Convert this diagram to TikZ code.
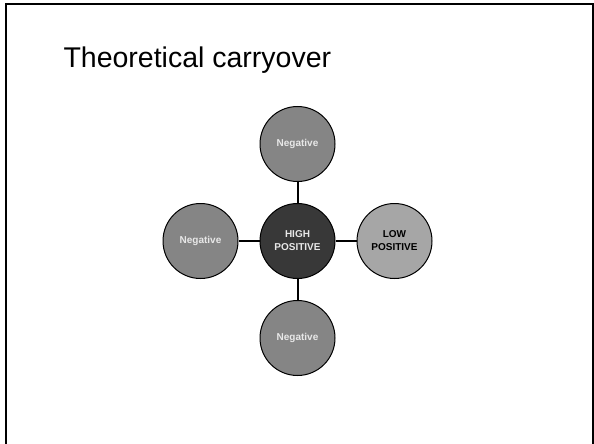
\documentclass[tikz,border=0pt]{standalone}
\usepackage{fontspec}
\setmainfont{Liberation Sans}
\usetikzlibrary{positioning}
\definecolor{negfill}{HTML}{858585}
\definecolor{highfill}{HTML}{383838}
\definecolor{lowfill}{HTML}{A6A6A6}
\definecolor{pale}{HTML}{E8E8E8}
\begin{document}
\begin{tikzpicture}[x=1pt,y=1pt,
  main/.style = {draw, circle, line width=1pt, minimum size=75pt, inner sep=0pt,
    font=\fontsize{10}{13}\selectfont\bfseries, align=center},
  neg/.style = {main, fill=negfill, text=pale},
  link/.style = {line width=2pt},
  node distance=97pt, on grid]
\useasboundingbox (0,0) rectangle (594,-444);
\draw[line width=2pt] (5.5,-444) -- (5.5,-4.5) -- (592.5,-4.5) -- (592.5,-444);
\node[anchor=base west, font=\fontsize{28.5}{34}\selectfont] (title) at (60,-67) {Theoretical carryover};
\node[main] (high) [fill=highfill, text=pale] at (297.5,-241) {HIGH\\POSITIVE};
\node[neg] (top) [above=of high] {Negative};
\node[neg] (left) [left=of high] {Negative};
\node[main] (low) [right=of high][fill=lowfill] {LOW\\POSITIVE};
\node[neg] (bottom) [below=of high] {Negative};
\draw[link] (high) -- (top);
\draw[link] (high) -- (left);
\draw[link] (high) -- (low);
\draw[link] (high) -- (bottom);
\end{tikzpicture}
\end{document}
